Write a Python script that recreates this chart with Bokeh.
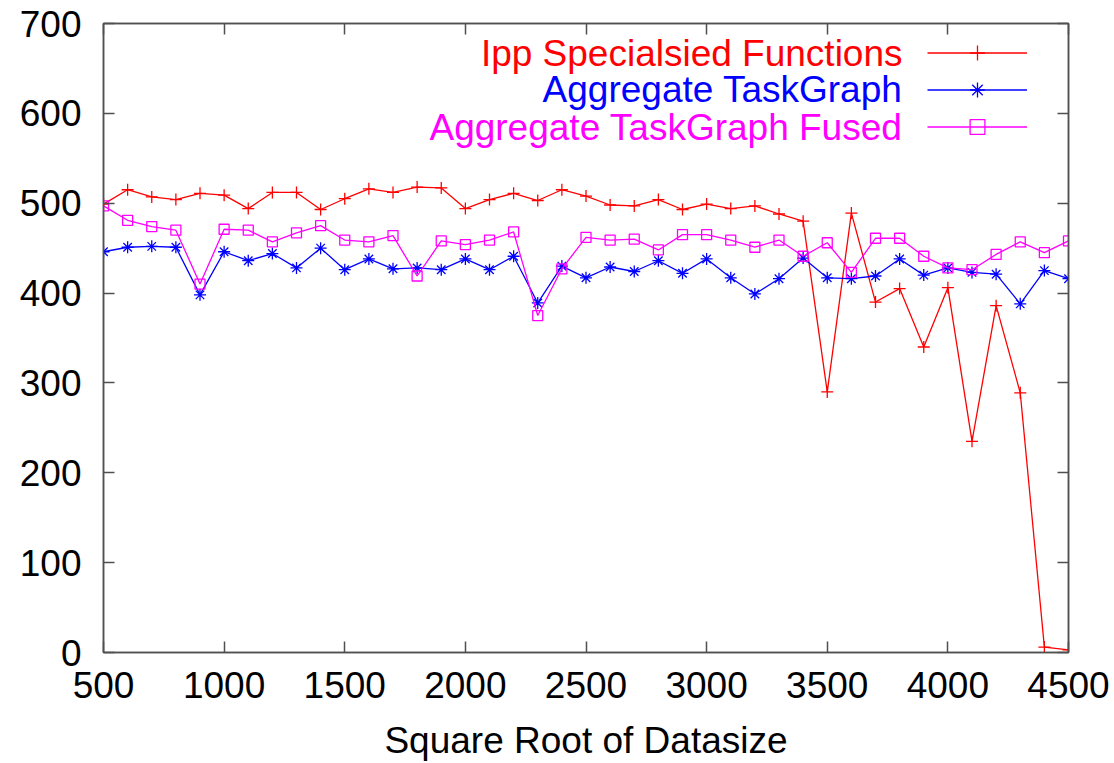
from bokeh.plotting import figure
from bokeh.models import (Range1d, FixedTicker, LinearAxis, Legend, LegendItem,
                          Label, CustomLabelingPolicy)
from bokeh.embed import file_html
from bokeh.resources import INLINE

# ---------------- data ----------------
datasize = [500, 600, 700, 800, 900, 1000, 1100, 1200, 1300, 1400, 1500,
            1600, 1700, 1800, 1900, 2000, 2100, 2200, 2300, 2400, 2500,
            2600, 2700, 2800, 2900, 3000, 3100, 3200, 3300, 3400, 3500,
            3600, 3700, 3800, 3900, 4000, 4100, 4200, 4300, 4400, 4500]

ipp_specialised = [499, 515, 507, 504, 511, 509, 494, 512, 512, 493, 505,
                   516, 512, 518, 517, 494, 504, 511, 503, 515, 508,
                   498, 497, 504, 493, 499, 494, 497, 488, 480, 290,
                   489, 390, 405, 340, 406, 235, 386, 289, 6, 3]

aggregate_taskgraph = [446, 451, 452, 451, 398, 446, 436, 444, 428, 450, 426,
                       438, 427, 428, 426, 438, 426, 441, 389, 430, 417,
                       429, 424, 436, 422, 438, 417, 399, 416, 439, 417,
                       416, 419, 438, 420, 428, 423, 421, 388, 425, 416]

aggregate_fused = [497, 481, 474, 470, 410, 471, 470, 457, 467, 475, 459,
                   457, 464, 419, 458, 454, 459, 468, 375, 427, 462,
                   459, 460, 448, 465, 465, 459, 451, 459, 441, 456,
                   423, 461, 461, 441, 428, 426, 443, 457, 445, 458]

series_names = ["Ipp Specialsied Functions", "Aggregate TaskGraph",
                "Aggregate TaskGraph Fused"]
x_ticks = [500, 1000, 1500, 2000, 2500, 3000, 3500, 4000, 4500]
y_ticks = [0, 100, 200, 300, 400, 500, 600, 700]
x_label = "Square Root of Datasize"

# ---------------- styling ----------------
FONT = "Liberation Sans"
FS = "37px"
AXIS_COLOR = "#505050"
RED, BLUE, MAGENTA = "#ff0000", "#0000ff", "#ff00ff"

p = figure(width=1114, height=763, output_backend="svg", toolbar_location=None,
           x_range=Range1d(500, 4500), y_range=Range1d(0, 700),
           min_border_left=103, min_border_right=46,
           min_border_top=23, min_border_bottom=111)

p.xgrid.visible = False
p.ygrid.visible = False
p.outline_line_color = AXIS_COLOR
p.outline_line_width = 1.5
p.background_fill_color = "white"
p.border_fill_color = "white"

no_labels = CustomLabelingPolicy(
    code="const a = [...indices]; for (const i of a) indices.unset(i); return indices")

def style_axis(ax, ticks, show_labels=True):
    ax.ticker = FixedTicker(ticks=ticks)
    ax.minor_tick_line_color = None
    ax.major_tick_in = 11
    ax.major_tick_out = 0
    ax.major_tick_line_color = AXIS_COLOR
    ax.major_tick_line_width = 1.5
    ax.axis_line_color = AXIS_COLOR
    ax.axis_line_width = 1.5
    ax.major_label_text_font = FONT
    ax.major_label_text_color = "black"
    if show_labels:
        ax.major_label_text_font_size = FS
    else:
        ax.major_label_text_font_size = "1px"
        ax.major_label_standoff = 0
        ax.major_label_policy = no_labels

xax = p.xaxis[0]
style_axis(xax, x_ticks)
xax.major_label_standoff = 19
xax.axis_label = x_label
xax.axis_label_text_font = FONT
xax.axis_label_text_font_size = FS
xax.axis_label_text_font_style = "normal"
xax.axis_label_text_color = "black"
xax.axis_label_standoff = 19

yax = p.yaxis[0]
style_axis(yax, y_ticks)
yax.major_label_standoff = 22

top_ax = LinearAxis()
style_axis(top_ax, x_ticks, show_labels=False)
p.add_layout(top_ax, "above")
right_ax = LinearAxis()
style_axis(right_ax, y_ticks, show_labels=False)
p.add_layout(right_ax, "right")

# ---------------- series ----------------
r_line = p.line(datasize, ipp_specialised, line_color=RED, line_width=1.3)
r_mark = p.scatter(datasize, ipp_specialised, marker="cross", size=12,
                   line_color=RED, line_width=1.3)
b_line = p.line(datasize, aggregate_taskgraph, line_color=BLUE, line_width=1.3)
b_mark = p.scatter(datasize, aggregate_taskgraph, marker="asterisk", size=12,
                   line_color=BLUE, line_width=1.3)
m_line = p.line(datasize, aggregate_fused, line_color=MAGENTA, line_width=1.3)
m_mark = p.scatter(datasize, aggregate_fused, marker="square", size=10,
                   line_color=MAGENTA, fill_color=None, line_width=1.3)

# ---------------- legend (gnuplot style: text left, sample right) ----------------
legend = Legend(items=[
    LegendItem(label=" ", renderers=[r_line, r_mark]),
    LegendItem(label=" ", renderers=[b_line, b_mark]),
    LegendItem(label=" ", renderers=[m_line, m_mark]),
], location=(824, 507), glyph_width=100, glyph_height=37, spacing=0,
    padding=0, margin=0, label_text_font_size="8px", label_height=8,
    label_standoff=0, label_width=0,
    background_fill_alpha=0, border_line_alpha=0)
p.add_layout(legend)

legend_text_x = 3812
legend_text_y = [667, 626, 584]
for name, col, ty in zip(series_names, [RED, BLUE, MAGENTA], legend_text_y):
    p.add_layout(Label(x=legend_text_x, y=ty, text=name, text_align="right",
                       text_baseline="middle", text_font=FONT,
                       text_font_size=FS, text_color=col))

open("out.html", "w").write(file_html(p, INLINE))
